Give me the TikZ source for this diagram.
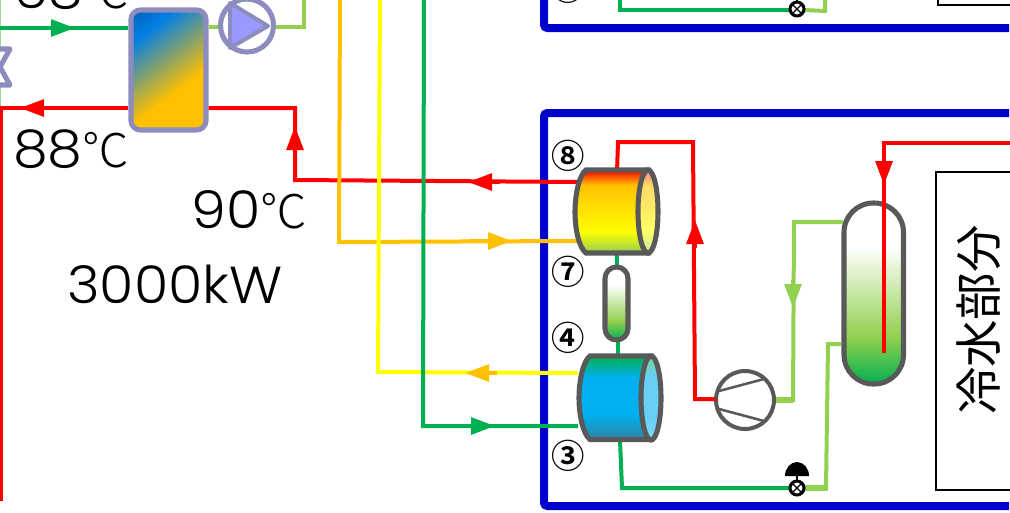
\documentclass[tikz,border=0pt]{standalone}
\usepackage{fontspec}
\usepackage{xcolor}
\usepackage{tikz}
\usetikzlibrary{arrows.meta,positioning,calc}
\setmainfont{Liberation Sans}
\newfontfamily\labfont[FakeStretch=1.07]{Poppins Light}
\newfontfamily\cjkfont{Noto Sans CJK JP}
\newfontfamily\cjklight{Noto Sans CJK JP Light}
\newfontfamily\numfont{Noto Sans CJK JP Bold}
\definecolor{hotred}{RGB}{255,0,0}
\definecolor{warmgold}{RGB}{255,192,0}
\definecolor{warmyel}{RGB}{255,255,0}
\definecolor{coolgrn}{RGB}{0,176,80}
\definecolor{litegrn}{RGB}{146,208,80}
\definecolor{coolblue}{RGB}{0,176,240}
\definecolor{framblue}{RGB}{0,0,204}
\definecolor{unitgray}{RGB}{89,89,89}
\definecolor{pumpline}{RGB}{140,140,190}
\definecolor{pumpfill}{RGB}{153,153,255}
\pgfdeclareverticalshading{condbody}{100bp}{color(0bp)=(litegrn); color(25bp)=(litegrn); color(38bp)=(warmyel); color(66bp)=(warmgold); color(75bp)=(hotred); color(100bp)=(hotred)}
\pgfdeclareverticalshading{condface}{100bp}{color(0bp)=(litegrn!50); color(25bp)=(litegrn!50); color(38bp)=(warmyel!60); color(66bp)=(warmgold!60); color(75bp)=(hotred!50); color(100bp)=(hotred!50)}
\pgfdeclareverticalshading{evapbody}{100bp}{color(0bp)=(coolblue!50!unitgray); color(25bp)=(coolblue!50!unitgray); color(40bp)=(coolblue); color(62bp)=(coolblue); color(75bp)=(coolgrn); color(100bp)=(coolgrn)}
\pgfdeclareverticalshading{evapface}{100bp}{color(0bp)=(coolblue!50); color(25bp)=(coolblue!50); color(40bp)=(coolblue!60); color(62bp)=(coolblue!60); color(75bp)=(coolgrn!55); color(100bp)=(coolgrn!55)}
\pgfdeclareverticalshading{sepshade}{100bp}{color(0bp)=(coolgrn); color(25bp)=(coolgrn); color(38bp)=(litegrn); color(63bp)=(white); color(100bp)=(white)}
\pgfdeclareverticalshading{hxshade}{100bp}{rgb(0bp)=(1,0.753,0); rgb(39bp)=(1,0.753,0); rgb(72bp)=(0,0.5,0.9); rgb(82bp)=(0,0.4,0.75); rgb(100bp)=(0,0.4,0.75)}

\begin{document}
\begin{tikzpicture}[
      x=0.75pt, y=-0.75pt,
      pipe/.style={line width=3pt},
      fatpipe/.style={line width=3.8pt},
      flow/.style={line width=3pt, -{Triangle[length=18pt,width=12.5pt]}},
      framel/.style={draw=framblue, line width=6pt, rounded corners=2.5pt},
      unit/.style={draw=unitgray, line width=3.8pt},
      hxbox/.style={draw=pumpline, line width=3.8pt, rounded corners=7pt, minimum width=56.25pt, minimum height=90pt, inner sep=0pt, shading=hxshade, shading angle=37},
      pumpc/.style={circle, draw=pumpline, line width=3.8pt, minimum size=39.75pt, inner sep=0pt},
      compc/.style={circle, draw=unitgray, line width=3pt, fill=white, minimum size=43.5pt, inner sep=0pt},
      boxl/.style={draw=black, line width=1.2pt},
      lab/.style={font=\labfont\fontsize{39}{44}\selectfont, anchor=base west, inner sep=0pt},
      cjk/.style={font=\cjkfont\fontsize{35.6}{40}\selectfont, inner sep=0pt},
      numl/.style={font=\numfont\fontsize{25}{26}\selectfont, inner sep=0pt}
    ]
      \clip[use as bounding box] (0,0) rectangle (1010,512);

      % frames and cold water box
      \draw[framel] (1009,113) -- (544,113) -- (544,506) -- (1009,506);
      \draw[framel] (544,-10) -- (544,28) -- (1009,28);
      \draw[boxl] (1020,172) -- (936,172) -- (936,490) -- (1020,490);
      \draw[boxl] (1020,5) -- (938,5) -- (938,-5);
      \node[cjk, rotate=90] (cold) at (979,320) {冷水部分};

      % left plant
      \draw[line width=1.5pt, litegrn!60!coolgrn!60] (0,0) -- (0,108);
      \draw[line width=3.8pt, pumpline, fill=white, line join=round] (-10,49) -- (10,49) -- (-10,85) -- (10,85) -- cycle;
      \node[hxbox] (hx) at (168.5,70) {};
      \node[pumpc] (pump) at (247,25.5) {};
      \draw[draw=pumpline, fill=pumpfill, line width=3pt, line join=round] (230,3) -- (268,26) -- (230,48) -- cycle;
      \coordinate (hxg) at (0,28);
      \coordinate (hxr) at (0,108);
      \coordinate (riser) at (295,108);
      \coordinate (lgr) at (304,27);
      \draw[pipe, coolgrn] (hxg) -- (hxg -| hx.west);
      \draw[flow, coolgrn] (50,28) -- (75,28);
      \draw[pipe, hotred] (hx.west |- hxr) -- (hxr);
      \draw[flow, hotred] (44,108) -- (20,108);
      \draw[pipe, hotred] (1,106) -- (1,501);
      \draw[pipe, hotred] (hx.east |- hxr) -- (riser) -- (295,180) -- (578,182);
      \draw[flow, hotred] (295,152) -- (295,126);
      \draw[flow, hotred] (500,182) -- (468,182);
      \draw[pipe, litegrn] (hx.east |- lgr) -- (pump.west |- lgr);
      \draw[pipe, litegrn] (pump.east |- lgr) -- (lgr) -- (304,-5);

      % risers into the lower frame
      \draw[pipe, warmgold] (340,-5) -- (339,242) -- (578,241);
      \draw[flow, warmgold] (470,241) -- (512,241);
      \draw[pipe, warmyel] (380,-5) -- (378,372) -- (578,373);
      \draw[flow, warmgold] (497,373) -- (465,373);
      \draw[pipe, coolgrn] (424,-5) -- (423,426) -- (578,426);
      \draw[flow, coolgrn] (458,426) -- (495,426);

      % links between the shells
      \draw[pipe, coolgrn] (617,250) -- (617,270);
      \draw[pipe, coolgrn] (618,336) -- (618,360);
      \draw[pipe, coolgrn] (620,440) -- (622,488) -- (790,488);
      \draw[pipe, coolgrn] (620,-5) -- (620,10) -- (790,10);
      \draw[pipe, litegrn] (805,10) -- (825,11) -- (825,-5);
      \draw[pipe, hotred] (617,172) -- (618,142) -- (693,142) -- (695,399) -- (716,399);
      \draw[flow, hotred] (695,248) -- (695,220);

      % shells
      \draw[unit, shading=condbody] (586,170) .. controls (579,175) and (575,195) .. (575,212) .. controls (575,229) and (579,248) .. (586,253) -- (648,253) -- (648,170) -- cycle;
      \draw[unit, shading=condface] (648,211.5) ellipse [x radius=10, y radius=41.5];
      \draw[unit, shading=evapbody] (590,356) .. controls (583,361) and (579,381) .. (579,398) .. controls (579,415) and (583,434) .. (590,439.5) -- (651,439.5) -- (651,356) -- cycle;
      \draw[unit, shading=evapface] (651,398) ellipse [x radius=10, y radius=42];
      \draw[unit, rounded corners=8.6pt, shading=sepshade] (605,267) rectangle (628,340);
      \draw[unit, rounded corners=22pt, shading=sepshade] (844,203) rectangle (903.5,384);

      % compressor
      \node[compc] (comp) at (745,400) {};
      \draw[line width=1.9pt, unitgray] (719,391) -- (764,379);
      \draw[line width=1.9pt, unitgray] (719,409) -- (764,421);
      \draw[pipe, hotred] (716,399) -- (comp.west);
      \draw[fatpipe, litegrn] (comp.east) -- (793,400);
      \draw[pipe, litegrn] (793,402) -- (794,222) -- (843,222);
      \draw[flow, litegrn] (793,280) -- (793,308);
      \draw[pipe, litegrn] (841,344) -- (828,344) -- (826,488);
      \draw[fatpipe, litegrn] (804,488) -- (828,488);

      % inlet to the right vessel
      \draw[pipe, hotred, line width=3.6pt] (1015,143) -- (884,143) -- (884,353);
      \draw[flow, hotred] (884,158) -- (884,185);

      % expansion valves
      \foreach \vy in {488,9} {
        \draw[line width=2pt, black] (797,\vy-13) -- (797,\vy);
        \fill[black] (797,\vy) circle [radius=8.5];
        \fill[white] (797,\vy) circle [radius=5.5];
        \draw[black, line width=1pt] (793,\vy-4) -- (801,\vy+4) (793,\vy+4) -- (801,\vy-4);
      }
      \fill[black] (785,476) arc [start angle=180, end angle=360, x radius=12, y radius=14] -- cycle;

      % labels
      \node[lab] (t68) at (13,8) {68{\cjklight\fontsize{35}{40}\selectfont ℃}};
      \node[lab] (t88) at (13,167) {88{\cjklight\fontsize{35}{40}\selectfont ℃}};
      \node[lab] (t90) at (191,228) {90{\cjklight\fontsize{35}{40}\selectfont ℃}};
      \node[lab] (t3000) at (67,303) {3000kW};
      \node[numl] (n8) at (568,156) {⑧};
      \node[numl] (n7) at (568,272) {⑦};
      \node[numl] (n4) at (568,338) {④};
      \node[numl] (n3) at (568,456) {③};
      \node[numl] (n0) at (568,-12) {③};
    \end{tikzpicture}
\end{document}
